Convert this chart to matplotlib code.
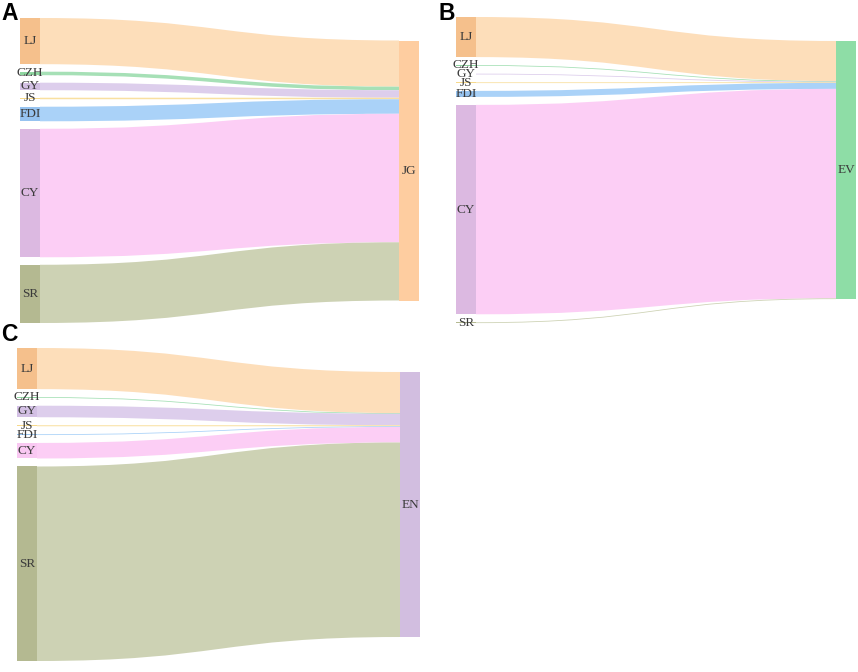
import matplotlib
matplotlib.use("Agg")
import matplotlib.pyplot as plt
from matplotlib.path import Path
from matplotlib.patches import PathPatch, Rectangle

# ---------------- data ----------------
sources = ["LJ", "CZH", "GY", "JS", "FDI", "CY", "SR"]
targets = ["JG", "EV", "EN"]
panel_letters = ["A", "B", "C"]

values_A = [46, 3.5, 7.5, 1.5, 14.5, 128, 58]     # -> JG
values_B = [40, 0.6, 0.6, 0.6, 6, 209, 0.7]       # -> EV
values_C = [41, 0.6, 11.5, 1.0, 0.7, 15.5, 194]   # -> EN

# ---------------- styles ----------------
node_colors = {"LJ": "#F5C08C", "CZH": "#8ED6A0", "GY": "#D3C0E4", "JS": "#F7D98A",
               "FDI": "#96C3F0", "CY": "#DCB9E1", "SR": "#B4B991"}
flow_colors = {"LJ": "#FDDEBA", "CZH": "#A6E0B6", "GY": "#DDCEEC", "JS": "#F9E0A0",
               "FDI": "#AAD2F8", "CY": "#FCCEF5", "SR": "#CDD2B4"}
target_colors = {"JG": "#FECDA0", "EV": "#8EDDA6", "EN": "#D2BEE0"}

# panel geometry (pixels): left-node x, target x, top, bottom of left column, gap
panels = [
    dict(vals=values_A, tgt="JG", xl=20, xr=399, top=18, bottom=323, gap=7.5,
         letter_xy=(1, 20), cy_node="#DCB9E1"),
    dict(vals=values_B, tgt="EV", xl=456, xr=836, top=17, bottom=323, gap=8,
         letter_xy=(438, 20), cy_node="#DCB9E1"),
    dict(vals=values_C, tgt="EN", xl=17, xr=400, top=348, bottom=661, gap=8,
         letter_xy=(1, 341), cy_node="#F9C8F2"),
]
node_w = 20

W, H = 858, 672
fig = plt.figure(figsize=(W / 100, H / 100), dpi=100)
ax = fig.add_axes([0, 0, 1, 1])
ax.set_xlim(0, W)
ax.set_ylim(H, 0)
ax.axis("off")

label_font = dict(family=["Liberation Serif", "DejaVu Serif"], fontsize=9.5, color="#3a3a3a")


def band(x0, a0, a1, x1, b0, b1, color):
    xm = (x0 + x1) / 2
    verts = [(x0, a0), (xm, a0), (xm, b0), (x1, b0),
             (x1, b1), (xm, b1), (xm, a1), (x0, a1), (x0, a0)]
    codes = [Path.MOVETO, Path.CURVE4, Path.CURVE4, Path.CURVE4,
             Path.LINETO, Path.CURVE4, Path.CURVE4, Path.CURVE4, Path.CLOSEPOLY]
    ax.add_patch(PathPatch(Path(verts, codes), facecolor=color, edgecolor="none", lw=0))


for p in panels:
    vals = p["vals"]
    total = sum(vals)
    n = len(vals)
    span = p["bottom"] - p["top"]
    ky = (span - p["gap"] * (n - 1)) / total
    tgt_h = total * ky
    tgt_top = p["top"] + (span - tgt_h) / 2
    y = p["top"]
    ty = tgt_top
    for name, v in zip(sources, vals):
        h = v * ky
        hd = max(h, 0.8)
        # flow
        band(p["xl"] + node_w, y, y + hd, p["xr"], ty, ty + hd, flow_colors[name])
        # node
        nc = p["cy_node"] if name == "CY" else node_colors[name]
        ax.add_patch(Rectangle((p["xl"], y), node_w, hd, facecolor=nc, edgecolor="none"))
        ax.text(p["xl"] + node_w / 2, y + h / 2, name, ha="center", va="center", **label_font)
        y += h + p["gap"]
        ty += h
    # target node
    ax.add_patch(Rectangle((p["xr"], tgt_top), node_w, tgt_h,
                           facecolor=target_colors[p["tgt"]], edgecolor="none"))
    ax.text(p["xr"] + node_w / 2, tgt_top + tgt_h / 2, p["tgt"], ha="center", va="center",
            **label_font)

for p, letter in zip(panels, panel_letters):
    ax.text(p["letter_xy"][0], p["letter_xy"][1], letter, ha="left", va="baseline",
            fontsize=16.5, fontweight="bold", family="Liberation Sans", color="black")

fig.savefig("out.png", dpi=100, facecolor="white")
